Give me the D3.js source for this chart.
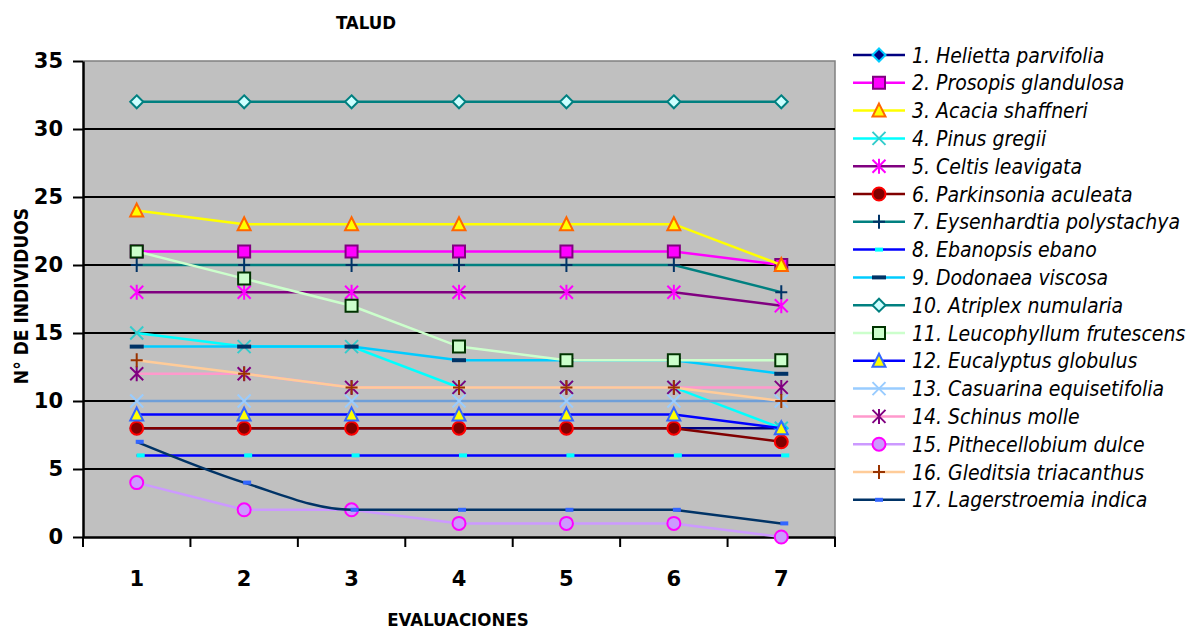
<!DOCTYPE html>
<html><head><meta charset="utf-8">
<script src="https://cdn.jsdelivr.net/npm/d3@7"></script>
<style>body{margin:0;background:#fff}svg{display:block}</style>
</head><body>
<svg id="c" width="1188" height="630"></svg>
<script>
const evaluaciones = [1,2,3,4,5,6,7];
const yTicks = [0,5,10,15,20,25,30,35];
const species = [
 "1. Helietta parvifolia","2. Prosopis glandulosa","3. Acacia shaffneri","4. Pinus gregii",
 "5. Celtis leavigata","6. Parkinsonia aculeata","7. Eysenhardtia polystachya","8. Ebanopsis ebano",
 "9. Dodonaea viscosa","10. Atriplex numularia","11. Leucophyllum frutescens","12. Eucalyptus globulus",
 "13. Casuarina equisetifolia","14. Schinus molle","15. Pithecellobium dulce","16. Gleditsia triacanthus",
 "17. Lagerstroemia indica"];
const helietta = [8,8,8,8,8,8,8];
const prosopis = [21,21,21,21,21,21,20];
const acacia = [24,23,23,23,23,23,20];
const pinus = [15,14,14,11,11,11,8];
const celtis = [18,18,18,18,18,18,17];
const parkinsonia = [8,8,8,8,8,8,7];
const eysenhardtia = [20,20,20,20,20,20,18];
const ebanopsis = [6,6,6,6,6,6,6];
const dodonaea = [14,14,14,13,13,13,12];
const atriplex = [32,32,32,32,32,32,32];
const leucophyllum = [21,19,17,14,13,13,13];
const eucalyptus = [9,9,9,9,9,9,8];
const casuarina = [10,10,10,10,10,10,10];
const schinus = [12,12,11,11,11,11,11];
const pithecellobium = [4,2,2,1,1,1,0];
const gleditsia = [13,12,11,11,11,11,10];
const lagerstroemia = [7,4,2,2,2,2,1];
const seriesValues = [helietta,prosopis,acacia,pinus,celtis,parkinsonia,eysenhardtia,ebanopsis,
  dodonaea,atriplex,leucophyllum,eucalyptus,casuarina,schinus,pithecellobium,gleditsia,lagerstroemia];

// styles
const styles = [
 {line:"#000080", m:"diamond", fill:"#000080", stroke:"#00ccff"},
 {line:"#ff00ff", m:"square", fill:"#ff00ff", stroke:"#800080"},
 {line:"#ffff00", m:"triangle", fill:"#ffff00", stroke:"#ff6600"},
 {line:"#00ffff", m:"x", fill:"none", stroke:"#33cccc"},
 {line:"#800080", m:"star", fill:"none", stroke:"#ff00ff"},
 {line:"#800000", m:"circle", fill:"#800000", stroke:"#ff0000"},
 {line:"#008080", m:"plus", fill:"none", stroke:"#003366"},
 {line:"#0000ff", m:"dashS", fill:"#00ffff", stroke:"none", dx:4},
 {line:"#00ccff", m:"dashL", fill:"#003366", stroke:"none"},
 {line:"#008080", m:"diamond", fill:"#ccffff", stroke:"#008080"},
 {line:"#ccffcc", m:"square", fill:"#ccffcc", stroke:"#003300"},
 {line:"#0000ff", m:"triangle", fill:"#ffff00", stroke:"#3366ff"},
 {line:"#99ccff", m:"x", fill:"none", stroke:"#99ccff", plotLine:"#6f9fd8"},
 {line:"#ff99cc", m:"star", fill:"none", stroke:"#800080"},
 {line:"#cc99ff", m:"circle", fill:"#cc99ff", stroke:"#ff00ff"},
 {line:"#ffcc99", m:"plus", fill:"none", stroke:"#993300"},
 {line:"#003366", m:"dashS", fill:"#3366ff", stroke:"none", dx:3, smoothUpTo:3}
];

const markerPath = {
 diamond: s=>`M0,${-s}L${s},0L0,${s}L${-s},0Z`,
 square: s=>`M${-s},${-s}H${s}V${s}H${-s}Z`,
 triangle: s=>`M0,${-s-1}L${s+0.5},${s}L${-s-0.5},${s}Z`,
 x: s=>`M${-s},${-s}L${s},${s}M${-s},${s}L${s},${-s}`,
 star: s=>`M${-s},${-s}L${s},${s}M${-s},${s}L${s},${-s}M0,${-s-1}V${s+1}`,
 plus: s=>`M${-s},0H${s}M0,${-s-1}V${s+1}`,
 circle: s=>`M${s},0A${s},${s} 0 1 1 ${-s},0A${s},${s} 0 1 1 ${s},0Z`,
 dashS: s=>`M-4,-2H4V2H-4Z`,
 dashL: s=>`M-7,-2H7V2H-7Z`
};
const msize = {diamond:6.5,square:6,triangle:6,x:6.5,star:6.5,plus:6,circle:6.5,dashS:1,dashL:1};

const svg = d3.select("#c");
const L=83,R=835,T=61,B=537;
const x = d3.scaleBand().domain(evaluaciones).range([L,R]);
const cx = d => x(d)+x.bandwidth()/2;
const y = d3.scaleLinear().domain([0,35]).range([B,T]);

// plot background
svg.append("rect").attr("x",L).attr("y",T).attr("width",R-L).attr("height",B-T).attr("fill","#c0c0c0");
svg.append("path").attr("d",`M${L},${T}H${R}V${B}`).attr("fill","none").attr("stroke","#808080").attr("stroke-width",1.5);
// gridlines
svg.append("g").selectAll("line").data(yTicks.filter(t=>t>0&&t<35)).join("line")
 .attr("x1",L).attr("x2",R).attr("y1",d=>y(d)).attr("y2",d=>y(d)).attr("stroke","#000").attr("stroke-width",2);

// y axis
const yAxis = svg.append("g").attr("transform",`translate(${L},0)`)
 .call(d3.axisLeft(y).tickValues(yTicks).tickSize(10).tickPadding(10).tickSizeOuter(0));
yAxis.select(".domain").attr("stroke","#000").attr("stroke-width",2.5);
yAxis.selectAll(".tick line").attr("stroke","#000").attr("stroke-width",2);
yAxis.selectAll("text").attr("font-family","DejaVu Sans").attr("font-weight","bold").attr("font-size",21).attr("fill","#000");

// x axis
const xAxis = svg.append("g").attr("transform",`translate(0,${B})`)
 .call(d3.axisBottom(x).tickSize(0).tickPadding(34).tickSizeOuter(0));
xAxis.select(".domain").attr("stroke","#000").attr("stroke-width",2.5);
xAxis.selectAll("text").attr("font-family","DejaVu Sans").attr("font-weight","bold").attr("font-size",21).attr("fill","#000");
const edges = evaluaciones.map(d=>x(d)).concat([x.range()[1]]);
svg.append("g").selectAll("line").data(edges).join("line")
 .attr("x1",d=>d).attr("x2",d=>d).attr("y1",B).attr("y2",B+10).attr("stroke","#000").attr("stroke-width",2);

// series
const lineGen = d3.line().x(d=>cx(d[0])).y(d=>y(d[1]));
const smoothGen = d3.line().x(d=>cx(d[0])).y(d=>y(d[1])).curve(d3.curveMonotoneX);
function drawMarker(g, st, px, py){
  const s = msize[st.m];
  const isLine = ["x","star","plus"].includes(st.m);
  g.append("path").attr("d",markerPath[st.m](s))
   .attr("transform",`translate(${px+(st.dx||0)},${py})`)
   .attr("fill",isLine?"none":st.fill)
   .attr("stroke",st.stroke)
   .attr("stroke-width",isLine?2:(st.stroke==="none"?0:2));
}
const sg = svg.append("g");
seriesValues.forEach((vals,k)=>{
  const st = styles[k];
  const g = sg.append("g");
  const pts = vals.map((v,i)=>[evaluaciones[i],v]);
  const col = st.plotLine||st.line;
  if (st.smoothUpTo) {
    g.append("path").attr("d",smoothGen(pts.slice(0,st.smoothUpTo+1))).attr("fill","none").attr("stroke",col).attr("stroke-width",2.5);
    g.append("path").attr("d",lineGen(pts.slice(st.smoothUpTo))).attr("fill","none").attr("stroke",col).attr("stroke-width",2.5);
  } else {
    g.append("path").attr("d",lineGen(pts)).attr("fill","none").attr("stroke",col).attr("stroke-width",2.5);
  }
  pts.forEach(p=>drawMarker(g,st,cx(p[0]),y(p[1])));
});

// titles
const tf = "DejaVu Sans Condensed, DejaVu Sans";
svg.append("text").attr("x",366).attr("y",29).attr("text-anchor","middle")
 .attr("font-family",tf).attr("font-weight","bold").attr("font-size",18.5).text("TALUD");
svg.append("text").attr("x",458).attr("y",626).attr("text-anchor","middle")
 .attr("font-family",tf).attr("font-weight","bold").attr("font-size",18.5).text("EVALUACIONES");
svg.append("text").attr("transform","translate(28,296) rotate(-90)").attr("text-anchor","middle")
 .attr("font-family",tf).attr("font-weight","bold").attr("font-size",19).text("N° DE INDIVIDUOS");

// legend
const lg = svg.append("g");
species.forEach((name,k)=>{
  const st = styles[k];
  const ly = 55 + k*27.8;
  lg.append("line").attr("x1",853).attr("x2",905).attr("y1",ly).attr("y2",ly).attr("stroke",st.line).attr("stroke-width",2.5);
  drawMarker(lg, Object.assign({},st,{dx:0}), 879, ly);
  lg.append("text").attr("x",912).attr("y",ly+7.5)
   .attr("font-family",tf).attr("font-style","italic").attr("font-size",21).attr("fill","#000").text(name);
});
</script>
</body></html>
